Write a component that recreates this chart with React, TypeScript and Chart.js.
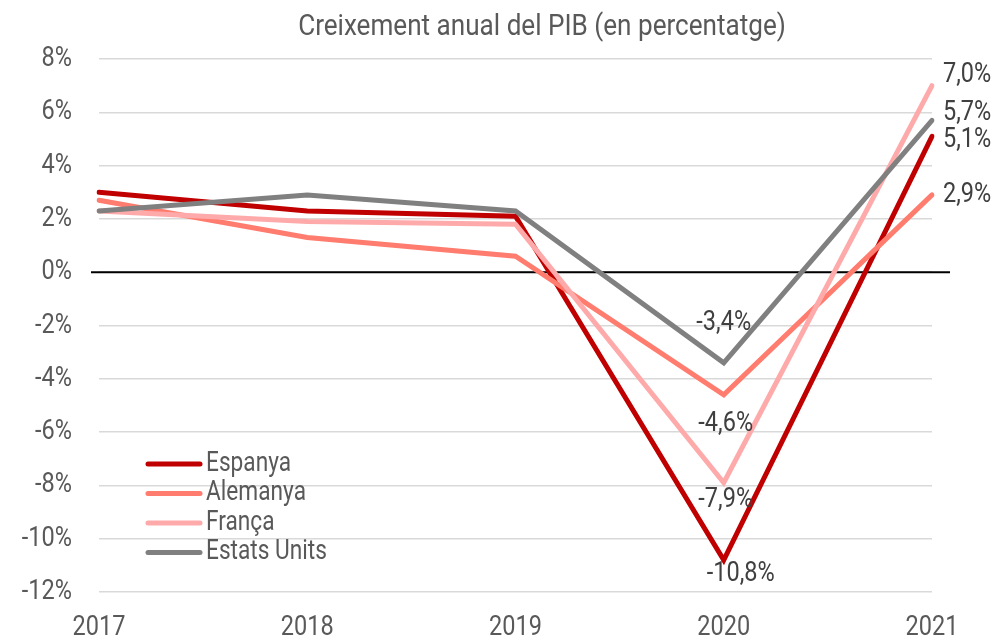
import React, { useEffect, useRef } from "react";
import { Chart, registerables } from "chart.js";

Chart.register(...registerables);

const years = ["2017", "2018", "2019", "2020", "2021"];
const espanya = [3.0, 2.3, 2.1, -10.8, 5.1];
const alemanya = [2.7, 1.3, 0.6, -4.6, 2.9];
const franca = [2.3, 1.9, 1.8, -7.9, 7.0];
const estatsUnits = [2.3, 2.9, 2.3, -3.4, 5.7];
const seriesNames = ["Espanya", "Alemanya", "França", "Estats Units"];
const seriesColors = ["#C00000", "#FF7C6E", "#FFAAAA", "#808080"];
const titleText = "Creixement anual del PIB (en percentatge)";

const FONT = "Roboto, 'DejaVu Sans Condensed', sans-serif";
const SX = 0.84;

// label nudges for 2020 (index 3) and 2021 (index 4) labels, in px
const labelNudge = [
  { dx3: 17, dy3: 14, dy4: 3.5 },
  { dx3: 2, dy3: 29, dy4: 0 },
  { dx3: 2, dy3: 17, dy4: -11 },
  { dx3: 0, dy3: -40, dy4: -7.5 },
];

const fmt = (v: number) => v.toFixed(1).replace(".", ",") + "%";

function drawText(ctx: any, text: string, x: number, y: number, align: string, size: number, color: string, sx: number = SX) {
  ctx.save();
  ctx.translate(x, y);
  ctx.scale(sx, 1);
  ctx.font = `${size}px ${FONT}`;
  ctx.fillStyle = color;
  ctx.textAlign = align;
  ctx.textBaseline = "middle";
  ctx.fillText(text, 0, 0);
  ctx.restore();
}

const customPlugin = {
  id: "custom",
  beforeDatasetsDraw(chart: any) {
    const { ctx, chartArea, scales } = chart;
    const y0 = scales.y.getPixelForValue(0);
    ctx.save();
    ctx.strokeStyle = "#000000";
    ctx.lineWidth = 2;
    ctx.beginPath();
    ctx.moveTo(chartArea.left - 8, y0);
    ctx.lineTo(chartArea.right + 18, y0);
    ctx.stroke();
    ctx.restore();
  },
  afterDraw(chart: any) {
    const { ctx, scales } = chart;
    // title
    drawText(ctx, titleText, 542, 27, "center", 30, "#595959", 0.87);

    // y ticks
    scales.y.ticks.forEach((t: any) => {
      const y = scales.y.getPixelForValue(t.value);
      drawText(ctx, `${t.value}%`, 72, y, "right", 28, "#595959");
    });
    // x ticks
    years.forEach((lab, i) => {
      const x = scales.x.getPixelForValue(i);
      drawText(ctx, lab, x, 628, "center", 28, "#595959");
    });

    // data labels
    chart.data.datasets.forEach((ds: any, di: number) => {
      const meta = chart.getDatasetMeta(di);
      const n = labelNudge[di];
      const p3 = meta.data[3];
      const p4 = meta.data[4];
      drawText(ctx, fmt(ds.data[3]), p3.x + n.dx3, p3.y + n.dy3, "center", 28, "#404040");
      drawText(ctx, fmt(ds.data[4]), p4.x + 11, p4.y + n.dy4, "left", 28, "#404040");
    });

    // legend
    const lx = 146;
    const ly = 464;
    const gap = 29.5;
    chart.data.datasets.forEach((ds: any, di: number) => {
      const y = ly + di * gap;
      ctx.save();
      ctx.strokeStyle = ds.borderColor;
      ctx.lineWidth = 5;
      ctx.lineCap = "round";
      ctx.beginPath();
      ctx.moveTo(lx + 2, y);
      ctx.lineTo(lx + 54, y);
      ctx.stroke();
      ctx.restore();
      drawText(ctx, ds.label, 206, y, "left", 27, "#595959");
    });
  },
};

export default function App() {
  const ref = useRef<HTMLCanvasElement | null>(null);
  useEffect(() => {
    if (!ref.current) return;
    const data = [espanya, alemanya, franca, estatsUnits];
    const chart = new Chart(ref.current, {
      type: "line",
      data: {
        labels: years,
        datasets: data.map((d, i) => ({
          label: seriesNames[i],
          data: d,
          borderColor: seriesColors[i],
          backgroundColor: seriesColors[i],
          borderWidth: 5,
          pointRadius: 0,
          tension: 0,
          borderCapStyle: "round" as const,
          borderJoinStyle: "miter" as const,
          order: i === 3 ? 0 : 4 - i,
        })),
      },
      options: {
        responsive: false,
        animation: false,
        devicePixelRatio: 1,
        layout: { padding: { top: 59, right: 68, left: 0, bottom: 0 } },
        plugins: {
          legend: { display: false },
          title: { display: false },
          tooltip: { enabled: false },
        },
        scales: {
          x: {
            offset: false,
            grid: { display: false, drawTicks: false },
            border: { display: false },
            ticks: { display: false, maxRotation: 0 },
            afterFit: (s: any) => {
              s.height = 47;
            },
          },
          y: {
            min: -12,
            max: 8,
            grid: { color: "#D9D9D9", lineWidth: 1.5, drawTicks: false },
            border: { display: false },
            ticks: { display: false, stepSize: 2 },
            afterFit: (s: any) => {
              s.width = 99;
            },
          },
        },
      },
      plugins: [customPlugin],
    });
    return () => chart.destroy();
  }, []);
  return (
    <div style={{ position: "absolute", left: 0, top: 0, width: 1000, height: 639, background: "#fff" }}>
      <canvas ref={ref} width={1000} height={639} style={{ display: "block" }} />
    </div>
  );
}
